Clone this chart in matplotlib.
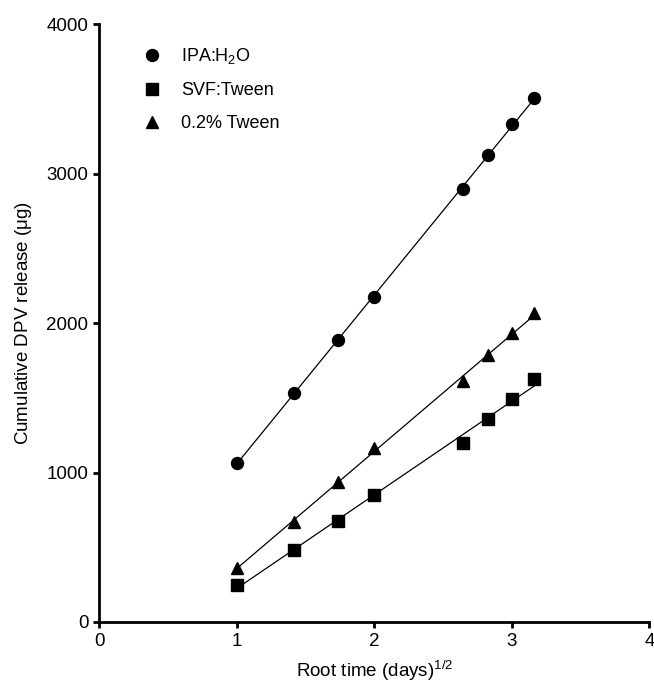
import numpy as np
import matplotlib
matplotlib.use('Agg')
import matplotlib.pyplot as plt

plt.rcParams['font.family'] = ['Liberation Sans', 'DejaVu Sans']
plt.rcParams['mathtext.default'] = 'regular'

# sampling days 1, 2, 3, 4, 7, 8, 9, 10 -> root time
root_t = np.sqrt([1, 2, 3, 4, 7, 8, 9, 10])
ipa_h2o = [1063, 1534, 1886, 2176, 2896, 3124, 3331, 3507]
svf_tween = [247, 482, 678, 850, 1195, 1358, 1492, 1625]
tween_02 = [361, 671, 938, 1162, 1612, 1786, 1933, 2067]

series = [
    (ipa_h2o, 'o', 8.6, 'IPA:H$_2$O'),
    (svf_tween, 's', 8.0, 'SVF:Tween'),
    (tween_02, '^', 8.0, '0.2% Tween'),
]

fig = plt.figure(figsize=(6.54, 6.91), dpi=100)
ax = fig.add_axes([0.152, 0.0999, 0.841, 0.8652])

for y, mk, ms, lab in series:
    # linear fit against root time (Higuchi plot)
    k, b = np.polyfit(root_t, y, 1)
    xx = np.array([root_t[0], root_t[-1]])
    ax.plot(xx, k * xx + b, color='black', lw=0.9, zorder=2)
    ax.plot(root_t, y, linestyle='none', marker=mk, ms=ms, color='black',
            label=lab, zorder=3)

ax.set_xlim(0, 4)
ax.set_ylim(0, 4000)
ax.set_xticks([0, 1, 2, 3, 4])
ax.set_yticks([0, 1000, 2000, 3000, 4000])
for s in ['top', 'right']:
    ax.spines[s].set_visible(False)
for s in ['left', 'bottom']:
    ax.spines[s].set_linewidth(2)
ax.tick_params(width=2, length=4, labelsize=13.5, pad=4)

ax.set_xlabel('Root time (days)$^{1/2}$', fontsize=13.5, labelpad=6)
ax.set_ylabel('Cumulative DPV release ($\\mu$g)', fontsize=13.5, labelpad=9)

ax.legend(loc='upper left', bbox_to_anchor=(0.049, 0.99), frameon=False,
          fontsize=13, handletextpad=1.15, labelspacing=0.88, handlelength=1.0)

fig.savefig('out.png', dpi=100)
